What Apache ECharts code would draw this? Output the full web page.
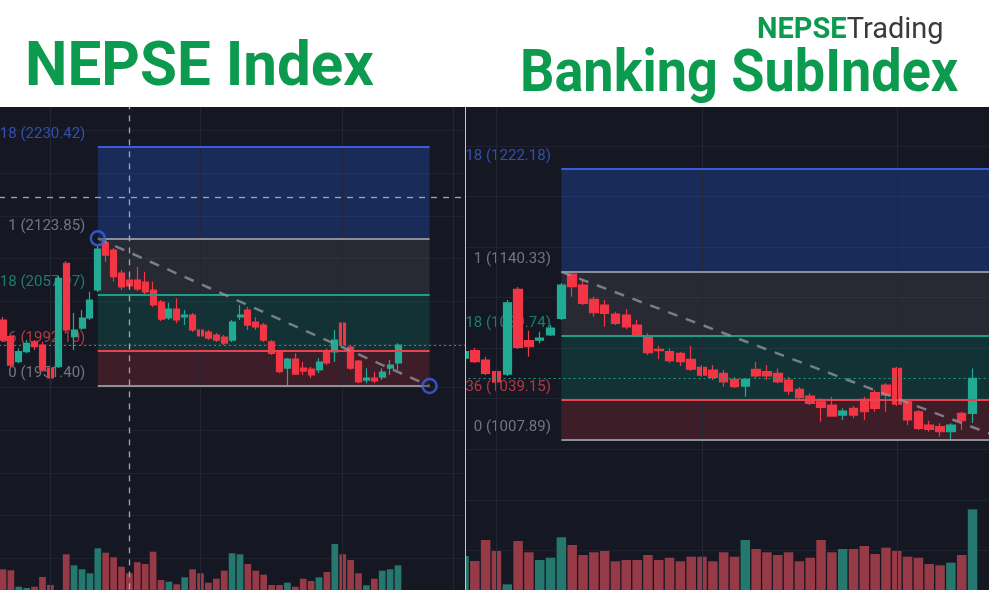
<!DOCTYPE html>
<html><head><meta charset="utf-8">
<script src="https://cdn.jsdelivr.net/npm/echarts@6/dist/echarts.min.js"></script>
<style>
html,body{margin:0;padding:0;background:#fff;width:989px;height:590px;overflow:hidden}
#left{position:absolute;left:0;top:0;width:465px;height:590px}
#right{position:absolute;left:466px;top:0;width:523px;height:590px}
#divider{position:absolute;left:465px;top:107px;width:1px;height:483px;background:#c4c7ce}
</style></head><body>
<div id="left"></div><div id="divider"></div><div id="right"></div>
<script>
// ---------- NEPSE Index (left panel) ----------
// [open, close, low, high]
const nepseOHLC = [
[2028.5,2005.1,2002.8,2032.0],[2009.0,1975.9,1973.9,2011.0],[1979.8,1991.5,1977.9,1995.4],[1991.5,2001.3,1989.6,2005.1],
[2003.1,1997.3,1993.4,2005.1],[1999.3,1970.1,1968.1,2003.1],[1972.4,1960.8,1951.4,1975.9],[1973.9,2077.1,1972.4,2079.8],
[2094.7,2016.8,2014.5,2097.3],[2009.0,2016.8,1993.4,2036.6],[2019.1,2030.8,2016.8,2040.1],[2030.8,2051.8,2028.5,2061.5],
[2063.5,2111.3,2061.2,2114.9],[2118.4,2104.3,2096.2,2123.85],[2110.2,2079.0,2073.2,2112.5],[2083.3,2067.0,2063.5,2086.8],
[2075.2,2068.2,2063.5,2079.8],[2075.2,2064.7,2062.3,2090.3],[2072.8,2061.2,2058.8,2084.8],[2063.5,2046.0,2043.6,2073.2],
[2049.5,2029.6,2027.3,2051.8],[2030.8,2041.3,2028.5,2048.7],[2041.3,2028.5,2024.6,2053.8],[2032.0,2034.3,2022.6,2040.1],
[2034.3,2016.8,2014.5,2036.6],[2016.8,2009.8,2007.4,2019.1],[2014.5,2007.4,2005.1,2016.8],[2011.0,2005.1,2002.8,2013.3],
[2008.6,2001.6,1999.3,2011.0],[2005.1,2026.1,2002.8,2028.5],[2032.0,2034.3,2028.5,2046.0],[2040.1,2022.6,2016.8,2044.0],
[2026.1,2020.3,2016.8,2031.6],[2022.6,2005.1,2002.8,2025.0],[2003.1,1989.6,1987.6,2005.1],[1991.5,1968.1,1966.2,1993.4],
[1972.4,1982.9,1952.6,1984.0],[1982.9,1965.4,1964.3,1989.6],[1972.4,1968.9,1964.3,1979.8],[1971.3,1964.3,1960.4,1973.9],
[1970.1,1979.4,1966.2,1983.8],[1991.1,1978.3,1975.9,1995.4],[1991.1,2005.1,1979.4,2016.8],[2025.0,1999.3,1998.1,2027.6],
[1996.9,1972.4,1970.1,1999.3],[1980.6,1956.1,1954.6,1981.8],[1958.4,1960.8,1954.6,1972.1],[1960.8,1957.3,1954.6,1968.1],
[1961.9,1967.8,1958.4,1972.1],[1972.4,1975.9,1964.3,1981.8],[1978.3,1999.3,1970.1,2001.3]
];
const nepseVolume = [20.7,19.7,3.3,2,3.3,13,5,0,35.7,24.7,20.7,16.7,41.7,37.3,32.7,23.3,16.7,27.7,26,38.3,
10,8.3,5.7,12.7,20.7,16.7,7.3,11.3,19.3,36.7,35.7,26,19.3,15.3,5,5,7.3,3.3,11.3,9,12.7,18,46,35.7,30,16.7,4.7,11.3,19.3,20.7,24.7];
const nepseFibLevels = ['1.618','1','0.618','0.236','0'];
const nepseFibValues = [2230.42, 2123.85, 2057.97, 1992.10, 1951.40];
const nepseCrosshairPrice = 2172.05;

// ---------- Banking SubIndex (right panel) ----------
const bankingOHLC = [
[1072.0,1077.2,1069.8,1079.3],[1078.0,1069.3,1068.2,1080.1],[1070.6,1060.1,1058.7,1073.2],[1061.4,1053.4,1050.8,1064.0],
[1059.5,1115.9,1058.0,1118.1],[1126.5,1080.6,1079.3,1128.3],[1085.9,1081.1,1073.2,1093.8],[1086.4,1088.0,1083.8,1093.0],
[1090.4,1095.9,1089.6,1098.3],[1103.6,1129.9,1102.2,1131.5],[1138.6,1128.6,1120.7,1140.33],[1129.9,1115.4,1114.1,1133.9],
[1118.6,1108.0,1104.8,1120.7],[1114.1,1107.5,1096.9,1118.1],[1107.0,1099.6,1098.3,1108.8],[1106.2,1096.9,1094.9,1110.7],
[1098.3,1090.4,1088.6,1102.2],[1089.6,1076.4,1074.6,1091.7],[1079.1,1078.0,1071.2,1081.7],[1077.2,1070.1,1068.0,1079.9],
[1075.9,1069.3,1065.9,1077.2],[1071.2,1063.3,1061.9,1081.7],[1064.8,1058.7,1057.4,1066.7],[1062.7,1056.9,1054.8,1066.7],
[1060.1,1053.4,1049.5,1062.7],[1055.3,1049.5,1048.5,1057.2],[1050.0,1055.3,1041.6,1056.4],[1063.3,1058.0,1056.4,1069.3],
[1061.4,1058.0,1054.8,1066.7],[1060.1,1053.4,1052.2,1064.0],[1054.8,1046.1,1042.9,1057.4],[1047.4,1040.8,1039.0,1049.3],
[1042.1,1036.4,1035.0,1044.3],[1037.6,1033.2,1021.8,1040.3],[1035.0,1026.3,1025.8,1041.6],[1027.1,1030.3,1023.2,1032.4],
[1032.4,1027.1,1024.5,1034.2],[1039.5,1029.7,1023.2,1041.6],[1044.8,1032.4,1029.7,1046.9],[1050.8,1042.9,1029.7,1052.2],
[1064.0,1035.8,1034.2,1065.3],[1037.6,1023.2,1019.2,1039.0],[1029.7,1016.6,1015.3,1031.1],[1019.2,1015.8,1013.9,1022.6],
[1017.9,1013.9,1010.0,1020.6],[1013.9,1019.2,1007.89,1020.6],[1028.5,1022.6,1015.3,1029.7],[1028.5,1056.1,1020.8,1064.0]
];
const bankingVolume = [34,29,50,39,5.7,49,37.7,30,32.3,52.7,45,35,37.7,39,28.7,30,30,35,30,32.3,28.7,33.3,33.3,28.7,
37.7,33.3,50,41,37.7,35,37.7,28.7,32.3,50,37.7,41,41,44,36,42.3,39,33.3,32.3,26,24.7,27.3,35,80.7];
const bankingFibLevels = ['1.618','1','0.618','0.236','0'];
const bankingFibValues = [1222.18, 1140.33, 1089.74, 1039.15, 1007.89];

// ---------- styling ----------
const UP = '#22ab94', DOWN = '#f23645', VOL_UP = '#24786d', VOL_DOWN = '#973a48';
const BG = '#151822';
const ZONE = ['rgba(41,98,255,0.25)','rgba(120,123,134,0.18)','rgba(8,153,129,0.2)','rgba(242,54,69,0.18)'];
const LINE = ['#3b5bdb','#8c8f99','#1e9e87','#e8414f','#8c8f99'];
const LABEL = ['#3a5cd6','#8a8d96','#1f9683','#d8404d','#8a8d96'];
const GREEN = '#0c9a4f';

function buildOption(c) {
  const cats = [];
  for (let i = 0; i < c.slotCount; i++) cats.push('T' + (i + 1));
  const last = c.ohlc[c.ohlc.length - 1][1];
  const s = c.boxStart, e = c.boxEnd;
  const zones = [];
  for (let i = 0; i < 4; i++) {
    zones.push([{coord: [s, c.fibValues[i]], itemStyle: {color: ZONE[i]}}, {coord: [e, c.fibValues[i + 1]], itemStyle: {color: ZONE[i]}}]);
  }
  const levelLines = c.fibValues.map((v, i) => [
    {coord: [s, v], lineStyle: {color: LINE[i], width: 2, type: 'solid'}},
    {coord: [e, v], lineStyle: {color: LINE[i], width: 2, type: 'solid'}}
  ]);
  const trend = [
    {coord: [s, c.fibValues[1]], lineStyle: {color: 'rgba(150,153,162,0.75)', width: 2.5, type: [10, 9]}},
    {coord: [e, c.fibValues[4]], lineStyle: {color: 'rgba(150,153,162,0.75)', width: 2.5, type: [10, 9]}}
  ];
  const labels = c.fibValues.map((v, i) => ({
    value: [s, v], name: c.fibLevels[i] + ' (' + v.toFixed(2) + ')', label: {color: LABEL[i]}
  }));
  const vol = c.volume.map((v, i) => ({
    value: v, itemStyle: {color: c.ohlc[i][1] >= c.ohlc[i][0] ? VOL_UP : VOL_DOWN}
  }));
  const series = [
    {
      type: 'scatter', data: [], z: 0, silent: true, xAxisIndex: 0, yAxisIndex: 0,
      markLine: {silent: true, animation: false, symbol: ['none', 'none'], label: {show: false},
        lineStyle: {color: '#232733', width: 1, type: 'solid'},
        data: c.vGrid.map(x => ({xAxis: x}))}
    },
    {
      type: 'scatter', data: [], z: 1, silent: true, xAxisIndex: 0, yAxisIndex: 0,
      markArea: {silent: true, animation: false, label: {show: false}, data: zones}
    },
    {
      type: 'scatter', z: 2, silent: true, xAxisIndex: 0, yAxisIndex: 0,
      symbolSize: 1, itemStyle: {color: 'rgba(0,0,0,0)'},
      data: labels,
      label: {show: true, position: 'left', distance: c.labelGap, offset: [0, -12.5], formatter: '{b}',
        fontSize: 15, fontFamily: 'Roboto, sans-serif'},
      markLine: {silent: true, animation: false, symbol: ['none', 'none'], label: {show: false},
        data: levelLines.concat([trend, {yAxis: last, lineStyle: {color: '#1e9e87', width: 1.2, type: [2, 3]}}])}
    },
    {
      type: 'candlestick', name: c.name, z: 3, data: c.ohlc, xAxisIndex: 0, yAxisIndex: 0,
      barWidth: c.candleWidth,
      itemStyle: {color: UP, color0: DOWN, borderColor: UP, borderColor0: DOWN, borderWidth: 1.2}
    },
    {
      type: 'bar', name: 'Volume', z: 3, data: vol, xAxisIndex: 1, yAxisIndex: 1, barWidth: c.volWidth
    }
  ];
  if (c.crosshair) {
    series.push({
      type: 'scatter', z: 5, silent: true, xAxisIndex: 0, yAxisIndex: 0,
      symbol: 'circle', symbolSize: 14,
      itemStyle: {color: 'rgba(21,24,34,0.4)', borderColor: '#3d63f0', borderWidth: 2.5},
      data: [[s, c.fibValues[1]], [e, c.fibValues[4]]],
      markLine: {silent: true, animation: false, symbol: ['none', 'none'], label: {show: false},
        lineStyle: {color: '#a3a6ae', width: 1.3, type: [6, 6]},
        data: [{xAxis: c.crosshair.slot}, {yAxis: c.crosshair.price}]}
    });
  }
  return {
    animation: false,
    backgroundColor: BG,
    grid: [
      {left: c.gridLeft, width: c.gridWidth, top: c.priceTop, height: c.priceHeight, outerBoundsMode: 'none', containLabel: false},
      {left: c.gridLeft, width: c.gridWidth, top: 490, height: 100, outerBoundsMode: 'none', containLabel: false}
    ],
    xAxis: [0, 1].map(g => ({
      type: 'category', gridIndex: g, data: cats, boundaryGap: true,
      axisLine: {show: false}, axisTick: {show: false}, axisLabel: {show: false}, splitLine: {show: false}
    })),
    yAxis: [
      {type: 'value', gridIndex: 0, min: c.priceMin, max: c.priceMax, interval: c.priceInterval,
        axisLine: {show: false}, axisTick: {show: false}, axisLabel: {show: false},
        splitLine: {show: true, lineStyle: {color: '#1f232e', width: 1}}},
      {type: 'value', gridIndex: 1, min: 0, max: 100,
        axisLine: {show: false}, axisTick: {show: false}, axisLabel: {show: false}, splitLine: {show: false}}
    ],
    graphic: [{type: 'rect', z: 100, shape: {x: 0, y: 0, width: c.width, height: 107}, style: {fill: '#ffffff'}}].concat(c.header),
    series: series
  };
}

const leftChart = echarts.init(document.getElementById('left'), null, {renderer: 'canvas'});
leftChart.setOption(buildOption({
  name: 'NEPSE Index', width: 465, ohlc: nepseOHLC, volume: nepseVolume,
  fibLevels: nepseFibLevels, fibValues: nepseFibValues,
  slotCount: 59, gridLeft: -0.95, gridWidth: 466.1, priceTop: 87.4, priceHeight: 514,
  priceMin: 1700, priceMax: 2300, priceInterval: 50,
  boxStart: 12, boxEnd: 54, labelGap: 12, candleWidth: 6.5, volWidth: 6.7,
  vGrid: [6, 25, 43, 57], crosshair: {slot: 16, price: nepseCrosshairPrice},
  header: [{type: 'text', z: 101, x: 25, y: 70, scaleX: 0.985,
    style: {text: 'NEPSE Index', fill: GREEN, font: 'bold 61px Roboto, sans-serif', verticalAlign: 'middle', align: 'left'}}]
}));

const rightChart = echarts.init(document.getElementById('right'), null, {renderer: 'canvas'});
rightChart.setOption(buildOption({
  name: 'Banking SubIndex', width: 523, ohlc: bankingOHLC, volume: bankingVolume,
  fibLevels: bankingFibLevels, fibValues: bankingFibValues,
  slotCount: 51, gridLeft: -7.41, gridWidth: 551.8, priceTop: 95.2, priceHeight: 505.9,
  priceMin: 880, priceMax: 1280, priceInterval: 40,
  boxStart: 9, boxEnd: 50, labelGap: 10, candleWidth: 9, volWidth: 9.5,
  vGrid: [3, 22, 40], crosshair: null,
  header: [
    {type: 'text', z: 101, x: 54, y: 76, scaleX: 0.9,
      style: {text: 'Banking SubIndex', fill: GREEN, font: 'bold 60px Roboto, sans-serif', verticalAlign: 'middle', align: 'left'}},
    {type: 'text', z: 101, x: 291, y: 31,
      style: {text: '{a|NEPSE}{b|Trading}', verticalAlign: 'middle', align: 'left',
        rich: {a: {fill: GREEN, fontSize: 29, fontWeight: 'bold', fontFamily: 'Roboto, sans-serif'},
               b: {fill: '#3a3a3a', fontSize: 29, fontWeight: 'normal', fontFamily: 'Roboto, sans-serif'}}}}
  ]
}));
</script>
</body></html>
